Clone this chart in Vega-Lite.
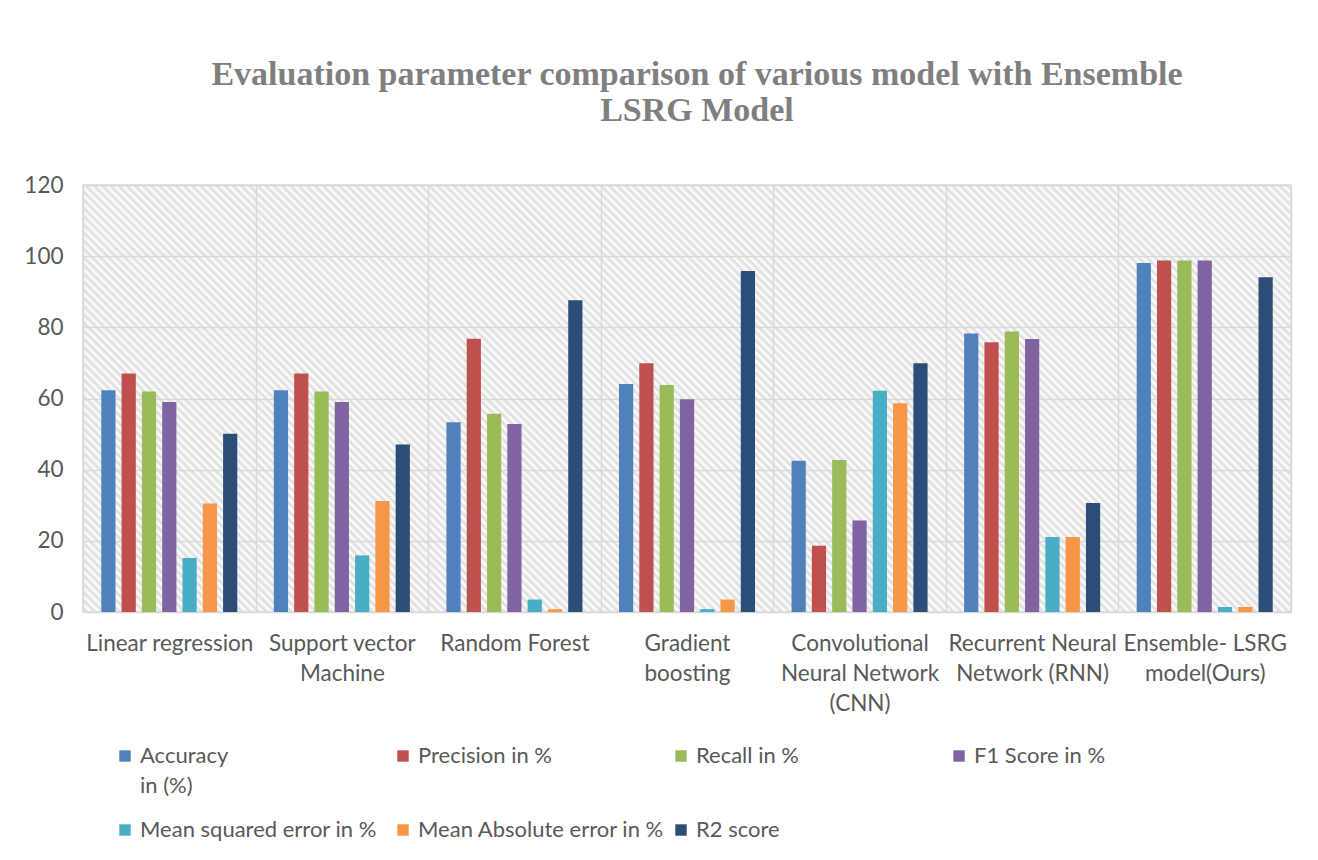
{
  "$schema": "https://vega.github.io/schema/vega-lite/v6.json",
  "width": 1208,
  "height": 427,
  "padding": {"left": 23, "top": 58, "right": 27, "bottom": 5},
  "background": "#ffffff",
  "title": {
    "text": ["Evaluation parameter comparison of various model with Ensemble", "LSRG Model"],
    "font": "Liberation Serif",
    "fontSize": 34,
    "fontWeight": "bold",
    "color": "#7f7f7f",
    "lineHeight": 36,
    "offset": 46,
    "anchor": "middle",
    "dx": 10
  },
  "data": {
    "values": [
      {"model": "Linear regression", "metric": "Accuracy in (%)", "value": 62.3},
      {"model": "Linear regression", "metric": "Precision in %", "value": 67.0},
      {"model": "Linear regression", "metric": "Recall in %", "value": 62.0},
      {"model": "Linear regression", "metric": "F1 Score in %", "value": 59.0},
      {"model": "Linear regression", "metric": "Mean squared error in %", "value": 15.2},
      {"model": "Linear regression", "metric": "Mean Absolute error in %", "value": 30.5},
      {"model": "Linear regression", "metric": "R2 score", "value": 50.1},
      {"model": "Support vector Machine", "metric": "Accuracy in (%)", "value": 62.3},
      {"model": "Support vector Machine", "metric": "Precision in %", "value": 67.0},
      {"model": "Support vector Machine", "metric": "Recall in %", "value": 62.0},
      {"model": "Support vector Machine", "metric": "F1 Score in %", "value": 59.0},
      {"model": "Support vector Machine", "metric": "Mean squared error in %", "value": 15.9},
      {"model": "Support vector Machine", "metric": "Mean Absolute error in %", "value": 31.2},
      {"model": "Support vector Machine", "metric": "R2 score", "value": 47.1},
      {"model": "Random Forest", "metric": "Accuracy in (%)", "value": 53.3},
      {"model": "Random Forest", "metric": "Precision in %", "value": 76.8},
      {"model": "Random Forest", "metric": "Recall in %", "value": 55.7},
      {"model": "Random Forest", "metric": "F1 Score in %", "value": 52.8},
      {"model": "Random Forest", "metric": "Mean squared error in %", "value": 3.5},
      {"model": "Random Forest", "metric": "Mean Absolute error in %", "value": 0.8},
      {"model": "Random Forest", "metric": "R2 score", "value": 87.6},
      {"model": "Gradient boosting", "metric": "Accuracy in (%)", "value": 64.1},
      {"model": "Gradient boosting", "metric": "Precision in %", "value": 69.9},
      {"model": "Gradient boosting", "metric": "Recall in %", "value": 63.8},
      {"model": "Gradient boosting", "metric": "F1 Score in %", "value": 59.8},
      {"model": "Gradient boosting", "metric": "Mean squared error in %", "value": 0.8},
      {"model": "Gradient boosting", "metric": "Mean Absolute error in %", "value": 3.5},
      {"model": "Gradient boosting", "metric": "R2 score", "value": 95.8},
      {"model": "Convolutional Neural Network (CNN)", "metric": "Accuracy in (%)", "value": 42.5},
      {"model": "Convolutional Neural Network (CNN)", "metric": "Precision in %", "value": 18.6},
      {"model": "Convolutional Neural Network (CNN)", "metric": "Recall in %", "value": 42.7},
      {"model": "Convolutional Neural Network (CNN)", "metric": "F1 Score in %", "value": 25.7},
      {"model": "Convolutional Neural Network (CNN)", "metric": "Mean squared error in %", "value": 62.2},
      {"model": "Convolutional Neural Network (CNN)", "metric": "Mean Absolute error in %", "value": 58.7},
      {"model": "Convolutional Neural Network (CNN)", "metric": "R2 score", "value": 69.9},
      {"model": "Recurrent Neural Network (RNN)", "metric": "Accuracy in (%)", "value": 78.3},
      {"model": "Recurrent Neural Network (RNN)", "metric": "Precision in %", "value": 75.8},
      {"model": "Recurrent Neural Network (RNN)", "metric": "Recall in %", "value": 78.8},
      {"model": "Recurrent Neural Network (RNN)", "metric": "F1 Score in %", "value": 76.7},
      {"model": "Recurrent Neural Network (RNN)", "metric": "Mean squared error in %", "value": 21.1},
      {"model": "Recurrent Neural Network (RNN)", "metric": "Mean Absolute error in %", "value": 21.1},
      {"model": "Recurrent Neural Network (RNN)", "metric": "R2 score", "value": 30.6},
      {"model": "Ensemble- LSRG model(Ours)", "metric": "Accuracy in (%)", "value": 98.1},
      {"model": "Ensemble- LSRG model(Ours)", "metric": "Precision in %", "value": 98.8},
      {"model": "Ensemble- LSRG model(Ours)", "metric": "Recall in %", "value": 98.8},
      {"model": "Ensemble- LSRG model(Ours)", "metric": "F1 Score in %", "value": 98.8},
      {"model": "Ensemble- LSRG model(Ours)", "metric": "Mean squared error in %", "value": 1.4},
      {"model": "Ensemble- LSRG model(Ours)", "metric": "Mean Absolute error in %", "value": 1.4},
      {"model": "Ensemble- LSRG model(Ours)", "metric": "R2 score", "value": 94.1}
    ]
  },
  "mark": {"type": "bar"},
  "encoding": {
    "x": {
      "field": "model",
      "type": "nominal",
      "sort": null,
      "scale": {"paddingInner": 0, "paddingOuter": 0},
      "axis": {
        "title": null,
        "tickBand": "extent",
        "ticks": false,
        "domain": false,
        "grid": true,
        "labelAngle": 0,
        "labelBaseline": "top",
        "labelPadding": 20,
        "labelLineHeight": 30,
        "labelLimit": 0,
        "labelOverlap": false,
        "labelExpr": "datum.value == 'Support vector Machine' ? ['Support vector', 'Machine'] : datum.value == 'Gradient boosting' ? ['Gradient', 'boosting'] : datum.value == 'Convolutional Neural Network (CNN)' ? ['Convolutional', 'Neural Network', '(CNN)'] : datum.value == 'Recurrent Neural Network (RNN)' ? ['Recurrent Neural', 'Network (RNN)'] : datum.value == 'Ensemble- LSRG model(Ours)' ? ['Ensemble- LSRG', 'model(Ours)'] : datum.value"
      }
    },
    "xOffset": {
      "field": "metric",
      "type": "nominal",
      "sort": ["Accuracy in (%)", "Precision in %", "Recall in %", "F1 Score in %", "Mean squared error in %", "Mean Absolute error in %", "R2 score"],
      "scale": {"paddingInner": 0.3, "paddingOuter": 0.9}
    },
    "y": {
      "field": "value",
      "type": "quantitative",
      "scale": {"domain": [0, 120]},
      "axis": {
        "title": null,
        "values": [0, 20, 40, 60, 80, 100, 120],
        "domain": false,
        "ticks": false,
        "grid": true,
        "labelPadding": 20
      }
    },
    "color": {
      "field": "metric",
      "type": "nominal",
      "scale": {
        "domain": ["Accuracy in (%)", "Precision in %", "Recall in %", "F1 Score in %", "Mean squared error in %", "Mean Absolute error in %", "R2 score"],
        "range": ["#4f81bd", "#c0504d", "#9bbb59", "#8064a2", "#4bacc6", "#f79646", "#2c4d75"]
      },
      "legend": {
        "title": null,
        "orient": "none",
        "legendX": 31,
        "legendY": 560,
        "direction": "horizontal",
        "columns": 4,
        "gridAlign": "all",
        "columnPadding": 5,
        "rowPadding": 22,
        "symbolType": "square",
        "symbolSize": 130,
        "symbolStrokeWidth": 0,
        "symbolOpacity": 1,
        "labelOffset": 4,
        "labelLimit": 0,
        "labelBaseline": "alphabetic",
        "labelExpr": "datum.value == 'Accuracy in (%)' ? ['Accuracy', 'in (%)'] : [datum.value, ' ']",
        "encode": {
          "labels": {"update": {"dy": {"value": 7}, "lineHeight": {"value": 30}}}
        }
      }
    }
  },
  "config": {
    "view": {
      "stroke": "#d9d9d9",
      "strokeWidth": 1.5,
      "fill": {
        "gradient": "linear",
        "x1": 0, "y1": 1, "x2": 1.2032, "y2": 0.5747,
        "stops": [
          {"offset":0,"color":"#fff"},{"offset":0.0025,"color":"#dcdcdc"},{"offset":0.005,"color":"#fff"},{"offset":0.0075,"color":"#dcdcdc"},
          {"offset":0.01,"color":"#fff"},{"offset":0.0125,"color":"#dcdcdc"},{"offset":0.015,"color":"#fff"},{"offset":0.0175,"color":"#dcdcdc"},
          {"offset":0.02,"color":"#fff"},{"offset":0.0225,"color":"#dcdcdc"},{"offset":0.025,"color":"#fff"},{"offset":0.0275,"color":"#dcdcdc"},
          {"offset":0.03,"color":"#fff"},{"offset":0.0325,"color":"#dcdcdc"},{"offset":0.035,"color":"#fff"},{"offset":0.0375,"color":"#dcdcdc"},
          {"offset":0.04,"color":"#fff"},{"offset":0.0425,"color":"#dcdcdc"},{"offset":0.045,"color":"#fff"},{"offset":0.0475,"color":"#dcdcdc"},
          {"offset":0.05,"color":"#fff"},{"offset":0.0525,"color":"#dcdcdc"},{"offset":0.055,"color":"#fff"},{"offset":0.0575,"color":"#dcdcdc"},
          {"offset":0.06,"color":"#fff"},{"offset":0.0625,"color":"#dcdcdc"},{"offset":0.065,"color":"#fff"},{"offset":0.0675,"color":"#dcdcdc"},
          {"offset":0.07,"color":"#fff"},{"offset":0.0725,"color":"#dcdcdc"},{"offset":0.075,"color":"#fff"},{"offset":0.0775,"color":"#dcdcdc"},
          {"offset":0.08,"color":"#fff"},{"offset":0.0825,"color":"#dcdcdc"},{"offset":0.085,"color":"#fff"},{"offset":0.0875,"color":"#dcdcdc"},
          {"offset":0.09,"color":"#fff"},{"offset":0.0925,"color":"#dcdcdc"},{"offset":0.095,"color":"#fff"},{"offset":0.0975,"color":"#dcdcdc"},
          {"offset":0.10,"color":"#fff"},{"offset":0.1025,"color":"#dcdcdc"},{"offset":0.105,"color":"#fff"},{"offset":0.1075,"color":"#dcdcdc"},
          {"offset":0.11,"color":"#fff"},{"offset":0.1125,"color":"#dcdcdc"},{"offset":0.115,"color":"#fff"},{"offset":0.1175,"color":"#dcdcdc"},
          {"offset":0.12,"color":"#fff"},{"offset":0.1225,"color":"#dcdcdc"},{"offset":0.125,"color":"#fff"},{"offset":0.1275,"color":"#dcdcdc"},
          {"offset":0.13,"color":"#fff"},{"offset":0.1325,"color":"#dcdcdc"},{"offset":0.135,"color":"#fff"},{"offset":0.1375,"color":"#dcdcdc"},
          {"offset":0.14,"color":"#fff"},{"offset":0.1425,"color":"#dcdcdc"},{"offset":0.145,"color":"#fff"},{"offset":0.1475,"color":"#dcdcdc"},
          {"offset":0.15,"color":"#fff"},{"offset":0.1525,"color":"#dcdcdc"},{"offset":0.155,"color":"#fff"},{"offset":0.1575,"color":"#dcdcdc"},
          {"offset":0.16,"color":"#fff"},{"offset":0.1625,"color":"#dcdcdc"},{"offset":0.165,"color":"#fff"},{"offset":0.1675,"color":"#dcdcdc"},
          {"offset":0.17,"color":"#fff"},{"offset":0.1725,"color":"#dcdcdc"},{"offset":0.175,"color":"#fff"},{"offset":0.1775,"color":"#dcdcdc"},
          {"offset":0.18,"color":"#fff"},{"offset":0.1825,"color":"#dcdcdc"},{"offset":0.185,"color":"#fff"},{"offset":0.1875,"color":"#dcdcdc"},
          {"offset":0.19,"color":"#fff"},{"offset":0.1925,"color":"#dcdcdc"},{"offset":0.195,"color":"#fff"},{"offset":0.1975,"color":"#dcdcdc"},
          {"offset":0.20,"color":"#fff"},{"offset":0.2025,"color":"#dcdcdc"},{"offset":0.205,"color":"#fff"},{"offset":0.2075,"color":"#dcdcdc"},
          {"offset":0.21,"color":"#fff"},{"offset":0.2125,"color":"#dcdcdc"},{"offset":0.215,"color":"#fff"},{"offset":0.2175,"color":"#dcdcdc"},
          {"offset":0.22,"color":"#fff"},{"offset":0.2225,"color":"#dcdcdc"},{"offset":0.225,"color":"#fff"},{"offset":0.2275,"color":"#dcdcdc"},
          {"offset":0.23,"color":"#fff"},{"offset":0.2325,"color":"#dcdcdc"},{"offset":0.235,"color":"#fff"},{"offset":0.2375,"color":"#dcdcdc"},
          {"offset":0.24,"color":"#fff"},{"offset":0.2425,"color":"#dcdcdc"},{"offset":0.245,"color":"#fff"},{"offset":0.2475,"color":"#dcdcdc"},
          {"offset":0.25,"color":"#fff"},{"offset":0.2525,"color":"#dcdcdc"},{"offset":0.255,"color":"#fff"},{"offset":0.2575,"color":"#dcdcdc"},
          {"offset":0.26,"color":"#fff"},{"offset":0.2625,"color":"#dcdcdc"},{"offset":0.265,"color":"#fff"},{"offset":0.2675,"color":"#dcdcdc"},
          {"offset":0.27,"color":"#fff"},{"offset":0.2725,"color":"#dcdcdc"},{"offset":0.275,"color":"#fff"},{"offset":0.2775,"color":"#dcdcdc"},
          {"offset":0.28,"color":"#fff"},{"offset":0.2825,"color":"#dcdcdc"},{"offset":0.285,"color":"#fff"},{"offset":0.2875,"color":"#dcdcdc"},
          {"offset":0.29,"color":"#fff"},{"offset":0.2925,"color":"#dcdcdc"},{"offset":0.295,"color":"#fff"},{"offset":0.2975,"color":"#dcdcdc"},
          {"offset":0.30,"color":"#fff"},{"offset":0.3025,"color":"#dcdcdc"},{"offset":0.305,"color":"#fff"},{"offset":0.3075,"color":"#dcdcdc"},
          {"offset":0.31,"color":"#fff"},{"offset":0.3125,"color":"#dcdcdc"},{"offset":0.315,"color":"#fff"},{"offset":0.3175,"color":"#dcdcdc"},
          {"offset":0.32,"color":"#fff"},{"offset":0.3225,"color":"#dcdcdc"},{"offset":0.325,"color":"#fff"},{"offset":0.3275,"color":"#dcdcdc"},
          {"offset":0.33,"color":"#fff"},{"offset":0.3325,"color":"#dcdcdc"},{"offset":0.335,"color":"#fff"},{"offset":0.3375,"color":"#dcdcdc"},
          {"offset":0.34,"color":"#fff"},{"offset":0.3425,"color":"#dcdcdc"},{"offset":0.345,"color":"#fff"},{"offset":0.3475,"color":"#dcdcdc"},
          {"offset":0.35,"color":"#fff"},{"offset":0.3525,"color":"#dcdcdc"},{"offset":0.355,"color":"#fff"},{"offset":0.3575,"color":"#dcdcdc"},
          {"offset":0.36,"color":"#fff"},{"offset":0.3625,"color":"#dcdcdc"},{"offset":0.365,"color":"#fff"},{"offset":0.3675,"color":"#dcdcdc"},
          {"offset":0.37,"color":"#fff"},{"offset":0.3725,"color":"#dcdcdc"},{"offset":0.375,"color":"#fff"},{"offset":0.3775,"color":"#dcdcdc"},
          {"offset":0.38,"color":"#fff"},{"offset":0.3825,"color":"#dcdcdc"},{"offset":0.385,"color":"#fff"},{"offset":0.3875,"color":"#dcdcdc"},
          {"offset":0.39,"color":"#fff"},{"offset":0.3925,"color":"#dcdcdc"},{"offset":0.395,"color":"#fff"},{"offset":0.3975,"color":"#dcdcdc"},
          {"offset":0.40,"color":"#fff"},{"offset":0.4025,"color":"#dcdcdc"},{"offset":0.405,"color":"#fff"},{"offset":0.4075,"color":"#dcdcdc"},
          {"offset":0.41,"color":"#fff"},{"offset":0.4125,"color":"#dcdcdc"},{"offset":0.415,"color":"#fff"},{"offset":0.4175,"color":"#dcdcdc"},
          {"offset":0.42,"color":"#fff"},{"offset":0.4225,"color":"#dcdcdc"},{"offset":0.425,"color":"#fff"},{"offset":0.4275,"color":"#dcdcdc"},
          {"offset":0.43,"color":"#fff"},{"offset":0.4325,"color":"#dcdcdc"},{"offset":0.435,"color":"#fff"},{"offset":0.4375,"color":"#dcdcdc"},
          {"offset":0.44,"color":"#fff"},{"offset":0.4425,"color":"#dcdcdc"},{"offset":0.445,"color":"#fff"},{"offset":0.4475,"color":"#dcdcdc"},
          {"offset":0.45,"color":"#fff"},{"offset":0.4525,"color":"#dcdcdc"},{"offset":0.455,"color":"#fff"},{"offset":0.4575,"color":"#dcdcdc"},
          {"offset":0.46,"color":"#fff"},{"offset":0.4625,"color":"#dcdcdc"},{"offset":0.465,"color":"#fff"},{"offset":0.4675,"color":"#dcdcdc"},
          {"offset":0.47,"color":"#fff"},{"offset":0.4725,"color":"#dcdcdc"},{"offset":0.475,"color":"#fff"},{"offset":0.4775,"color":"#dcdcdc"},
          {"offset":0.48,"color":"#fff"},{"offset":0.4825,"color":"#dcdcdc"},{"offset":0.485,"color":"#fff"},{"offset":0.4875,"color":"#dcdcdc"},
          {"offset":0.49,"color":"#fff"},{"offset":0.4925,"color":"#dcdcdc"},{"offset":0.495,"color":"#fff"},{"offset":0.4975,"color":"#dcdcdc"},
          {"offset":0.50,"color":"#fff"},{"offset":0.5025,"color":"#dcdcdc"},{"offset":0.505,"color":"#fff"},{"offset":0.5075,"color":"#dcdcdc"},
          {"offset":0.51,"color":"#fff"},{"offset":0.5125,"color":"#dcdcdc"},{"offset":0.515,"color":"#fff"},{"offset":0.5175,"color":"#dcdcdc"},
          {"offset":0.52,"color":"#fff"},{"offset":0.5225,"color":"#dcdcdc"},{"offset":0.525,"color":"#fff"},{"offset":0.5275,"color":"#dcdcdc"},
          {"offset":0.53,"color":"#fff"},{"offset":0.5325,"color":"#dcdcdc"},{"offset":0.535,"color":"#fff"},{"offset":0.5375,"color":"#dcdcdc"},
          {"offset":0.54,"color":"#fff"},{"offset":0.5425,"color":"#dcdcdc"},{"offset":0.545,"color":"#fff"},{"offset":0.5475,"color":"#dcdcdc"},
          {"offset":0.55,"color":"#fff"},{"offset":0.5525,"color":"#dcdcdc"},{"offset":0.555,"color":"#fff"},{"offset":0.5575,"color":"#dcdcdc"},
          {"offset":0.56,"color":"#fff"},{"offset":0.5625,"color":"#dcdcdc"},{"offset":0.565,"color":"#fff"},{"offset":0.5675,"color":"#dcdcdc"},
          {"offset":0.57,"color":"#fff"},{"offset":0.5725,"color":"#dcdcdc"},{"offset":0.575,"color":"#fff"},{"offset":0.5775,"color":"#dcdcdc"},
          {"offset":0.58,"color":"#fff"},{"offset":0.5825,"color":"#dcdcdc"},{"offset":0.585,"color":"#fff"},{"offset":0.5875,"color":"#dcdcdc"},
          {"offset":0.59,"color":"#fff"},{"offset":0.5925,"color":"#dcdcdc"},{"offset":0.595,"color":"#fff"},{"offset":0.5975,"color":"#dcdcdc"},
          {"offset":0.60,"color":"#fff"},{"offset":0.6025,"color":"#dcdcdc"},{"offset":0.605,"color":"#fff"},{"offset":0.6075,"color":"#dcdcdc"},
          {"offset":0.61,"color":"#fff"},{"offset":0.6125,"color":"#dcdcdc"},{"offset":0.615,"color":"#fff"},{"offset":0.6175,"color":"#dcdcdc"},
          {"offset":0.62,"color":"#fff"},{"offset":0.6225,"color":"#dcdcdc"},{"offset":0.625,"color":"#fff"},{"offset":0.6275,"color":"#dcdcdc"},
          {"offset":0.63,"color":"#fff"},{"offset":0.6325,"color":"#dcdcdc"},{"offset":0.635,"color":"#fff"},{"offset":0.6375,"color":"#dcdcdc"},
          {"offset":0.64,"color":"#fff"},{"offset":0.6425,"color":"#dcdcdc"},{"offset":0.645,"color":"#fff"},{"offset":0.6475,"color":"#dcdcdc"},
          {"offset":0.65,"color":"#fff"},{"offset":0.6525,"color":"#dcdcdc"},{"offset":0.655,"color":"#fff"},{"offset":0.6575,"color":"#dcdcdc"},
          {"offset":0.66,"color":"#fff"},{"offset":0.6625,"color":"#dcdcdc"},{"offset":0.665,"color":"#fff"},{"offset":0.6675,"color":"#dcdcdc"},
          {"offset":0.67,"color":"#fff"},{"offset":0.6725,"color":"#dcdcdc"},{"offset":0.675,"color":"#fff"},{"offset":0.6775,"color":"#dcdcdc"},
          {"offset":0.68,"color":"#fff"},{"offset":0.6825,"color":"#dcdcdc"},{"offset":0.685,"color":"#fff"},{"offset":0.6875,"color":"#dcdcdc"},
          {"offset":0.69,"color":"#fff"},{"offset":0.6925,"color":"#dcdcdc"},{"offset":0.695,"color":"#fff"},{"offset":0.6975,"color":"#dcdcdc"},
          {"offset":0.70,"color":"#fff"},{"offset":0.7025,"color":"#dcdcdc"},{"offset":0.705,"color":"#fff"},{"offset":0.7075,"color":"#dcdcdc"},
          {"offset":0.71,"color":"#fff"},{"offset":0.7125,"color":"#dcdcdc"},{"offset":0.715,"color":"#fff"},{"offset":0.7175,"color":"#dcdcdc"},
          {"offset":0.72,"color":"#fff"},{"offset":0.7225,"color":"#dcdcdc"},{"offset":0.725,"color":"#fff"},{"offset":0.7275,"color":"#dcdcdc"},
          {"offset":0.73,"color":"#fff"},{"offset":0.7325,"color":"#dcdcdc"},{"offset":0.735,"color":"#fff"},{"offset":0.7375,"color":"#dcdcdc"},
          {"offset":0.74,"color":"#fff"},{"offset":0.7425,"color":"#dcdcdc"},{"offset":0.745,"color":"#fff"},{"offset":0.7475,"color":"#dcdcdc"},
          {"offset":0.75,"color":"#fff"},{"offset":0.7525,"color":"#dcdcdc"},{"offset":0.755,"color":"#fff"},{"offset":0.7575,"color":"#dcdcdc"},
          {"offset":0.76,"color":"#fff"},{"offset":0.7625,"color":"#dcdcdc"},{"offset":0.765,"color":"#fff"},{"offset":0.7675,"color":"#dcdcdc"},
          {"offset":0.77,"color":"#fff"},{"offset":0.7725,"color":"#dcdcdc"},{"offset":0.775,"color":"#fff"},{"offset":0.7775,"color":"#dcdcdc"},
          {"offset":0.78,"color":"#fff"},{"offset":0.7825,"color":"#dcdcdc"},{"offset":0.785,"color":"#fff"},{"offset":0.7875,"color":"#dcdcdc"},
          {"offset":0.79,"color":"#fff"},{"offset":0.7925,"color":"#dcdcdc"},{"offset":0.795,"color":"#fff"},{"offset":0.7975,"color":"#dcdcdc"},
          {"offset":0.80,"color":"#fff"},{"offset":0.8025,"color":"#dcdcdc"},{"offset":0.805,"color":"#fff"},{"offset":0.8075,"color":"#dcdcdc"},
          {"offset":0.81,"color":"#fff"},{"offset":0.8125,"color":"#dcdcdc"},{"offset":0.815,"color":"#fff"},{"offset":0.8175,"color":"#dcdcdc"},
          {"offset":0.82,"color":"#fff"},{"offset":0.8225,"color":"#dcdcdc"},{"offset":0.825,"color":"#fff"},{"offset":0.8275,"color":"#dcdcdc"},
          {"offset":0.83,"color":"#fff"},{"offset":0.8325,"color":"#dcdcdc"},{"offset":0.835,"color":"#fff"},{"offset":0.8375,"color":"#dcdcdc"},
          {"offset":0.84,"color":"#fff"},{"offset":0.8425,"color":"#dcdcdc"},{"offset":0.845,"color":"#fff"},{"offset":0.8475,"color":"#dcdcdc"},
          {"offset":0.85,"color":"#fff"},{"offset":0.8525,"color":"#dcdcdc"},{"offset":0.855,"color":"#fff"},{"offset":0.8575,"color":"#dcdcdc"},
          {"offset":0.86,"color":"#fff"},{"offset":0.8625,"color":"#dcdcdc"},{"offset":0.865,"color":"#fff"},{"offset":0.8675,"color":"#dcdcdc"},
          {"offset":0.87,"color":"#fff"},{"offset":0.8725,"color":"#dcdcdc"},{"offset":0.875,"color":"#fff"},{"offset":0.8775,"color":"#dcdcdc"},
          {"offset":0.88,"color":"#fff"},{"offset":0.8825,"color":"#dcdcdc"},{"offset":0.885,"color":"#fff"},{"offset":0.8875,"color":"#dcdcdc"},
          {"offset":0.89,"color":"#fff"},{"offset":0.8925,"color":"#dcdcdc"},{"offset":0.895,"color":"#fff"},{"offset":0.8975,"color":"#dcdcdc"},
          {"offset":0.90,"color":"#fff"},{"offset":0.9025,"color":"#dcdcdc"},{"offset":0.905,"color":"#fff"},{"offset":0.9075,"color":"#dcdcdc"},
          {"offset":0.91,"color":"#fff"},{"offset":0.9125,"color":"#dcdcdc"},{"offset":0.915,"color":"#fff"},{"offset":0.9175,"color":"#dcdcdc"},
          {"offset":0.92,"color":"#fff"},{"offset":0.9225,"color":"#dcdcdc"},{"offset":0.925,"color":"#fff"},{"offset":0.9275,"color":"#dcdcdc"},
          {"offset":0.93,"color":"#fff"},{"offset":0.9325,"color":"#dcdcdc"},{"offset":0.935,"color":"#fff"},{"offset":0.9375,"color":"#dcdcdc"},
          {"offset":0.94,"color":"#fff"},{"offset":0.9425,"color":"#dcdcdc"},{"offset":0.945,"color":"#fff"},{"offset":0.9475,"color":"#dcdcdc"},
          {"offset":0.95,"color":"#fff"},{"offset":0.9525,"color":"#dcdcdc"},{"offset":0.955,"color":"#fff"},{"offset":0.9575,"color":"#dcdcdc"},
          {"offset":0.96,"color":"#fff"},{"offset":0.9625,"color":"#dcdcdc"},{"offset":0.965,"color":"#fff"},{"offset":0.9675,"color":"#dcdcdc"},
          {"offset":0.97,"color":"#fff"},{"offset":0.9725,"color":"#dcdcdc"},{"offset":0.975,"color":"#fff"},{"offset":0.9775,"color":"#dcdcdc"},
          {"offset":0.98,"color":"#fff"},{"offset":0.9825,"color":"#dcdcdc"},{"offset":0.985,"color":"#fff"},{"offset":0.9875,"color":"#dcdcdc"},
          {"offset":0.99,"color":"#fff"},{"offset":0.9925,"color":"#dcdcdc"},{"offset":0.995,"color":"#fff"},{"offset":0.9975,"color":"#dcdcdc"},
          {"offset":1,"color":"#fff"}
        ]
      }
    },
    "axis": {
      "gridColor": "#d9d9d9",
      "gridWidth": 1.5,
      "labelFont": "Lato",
      "labelFontSize": 22.5,
      "labelColor": "#595959"
    },
    "legend": {
      "labelFont": "Lato",
      "labelFontSize": 22,
      "labelColor": "#595959",
      "padding": 0
    }
  }
}
